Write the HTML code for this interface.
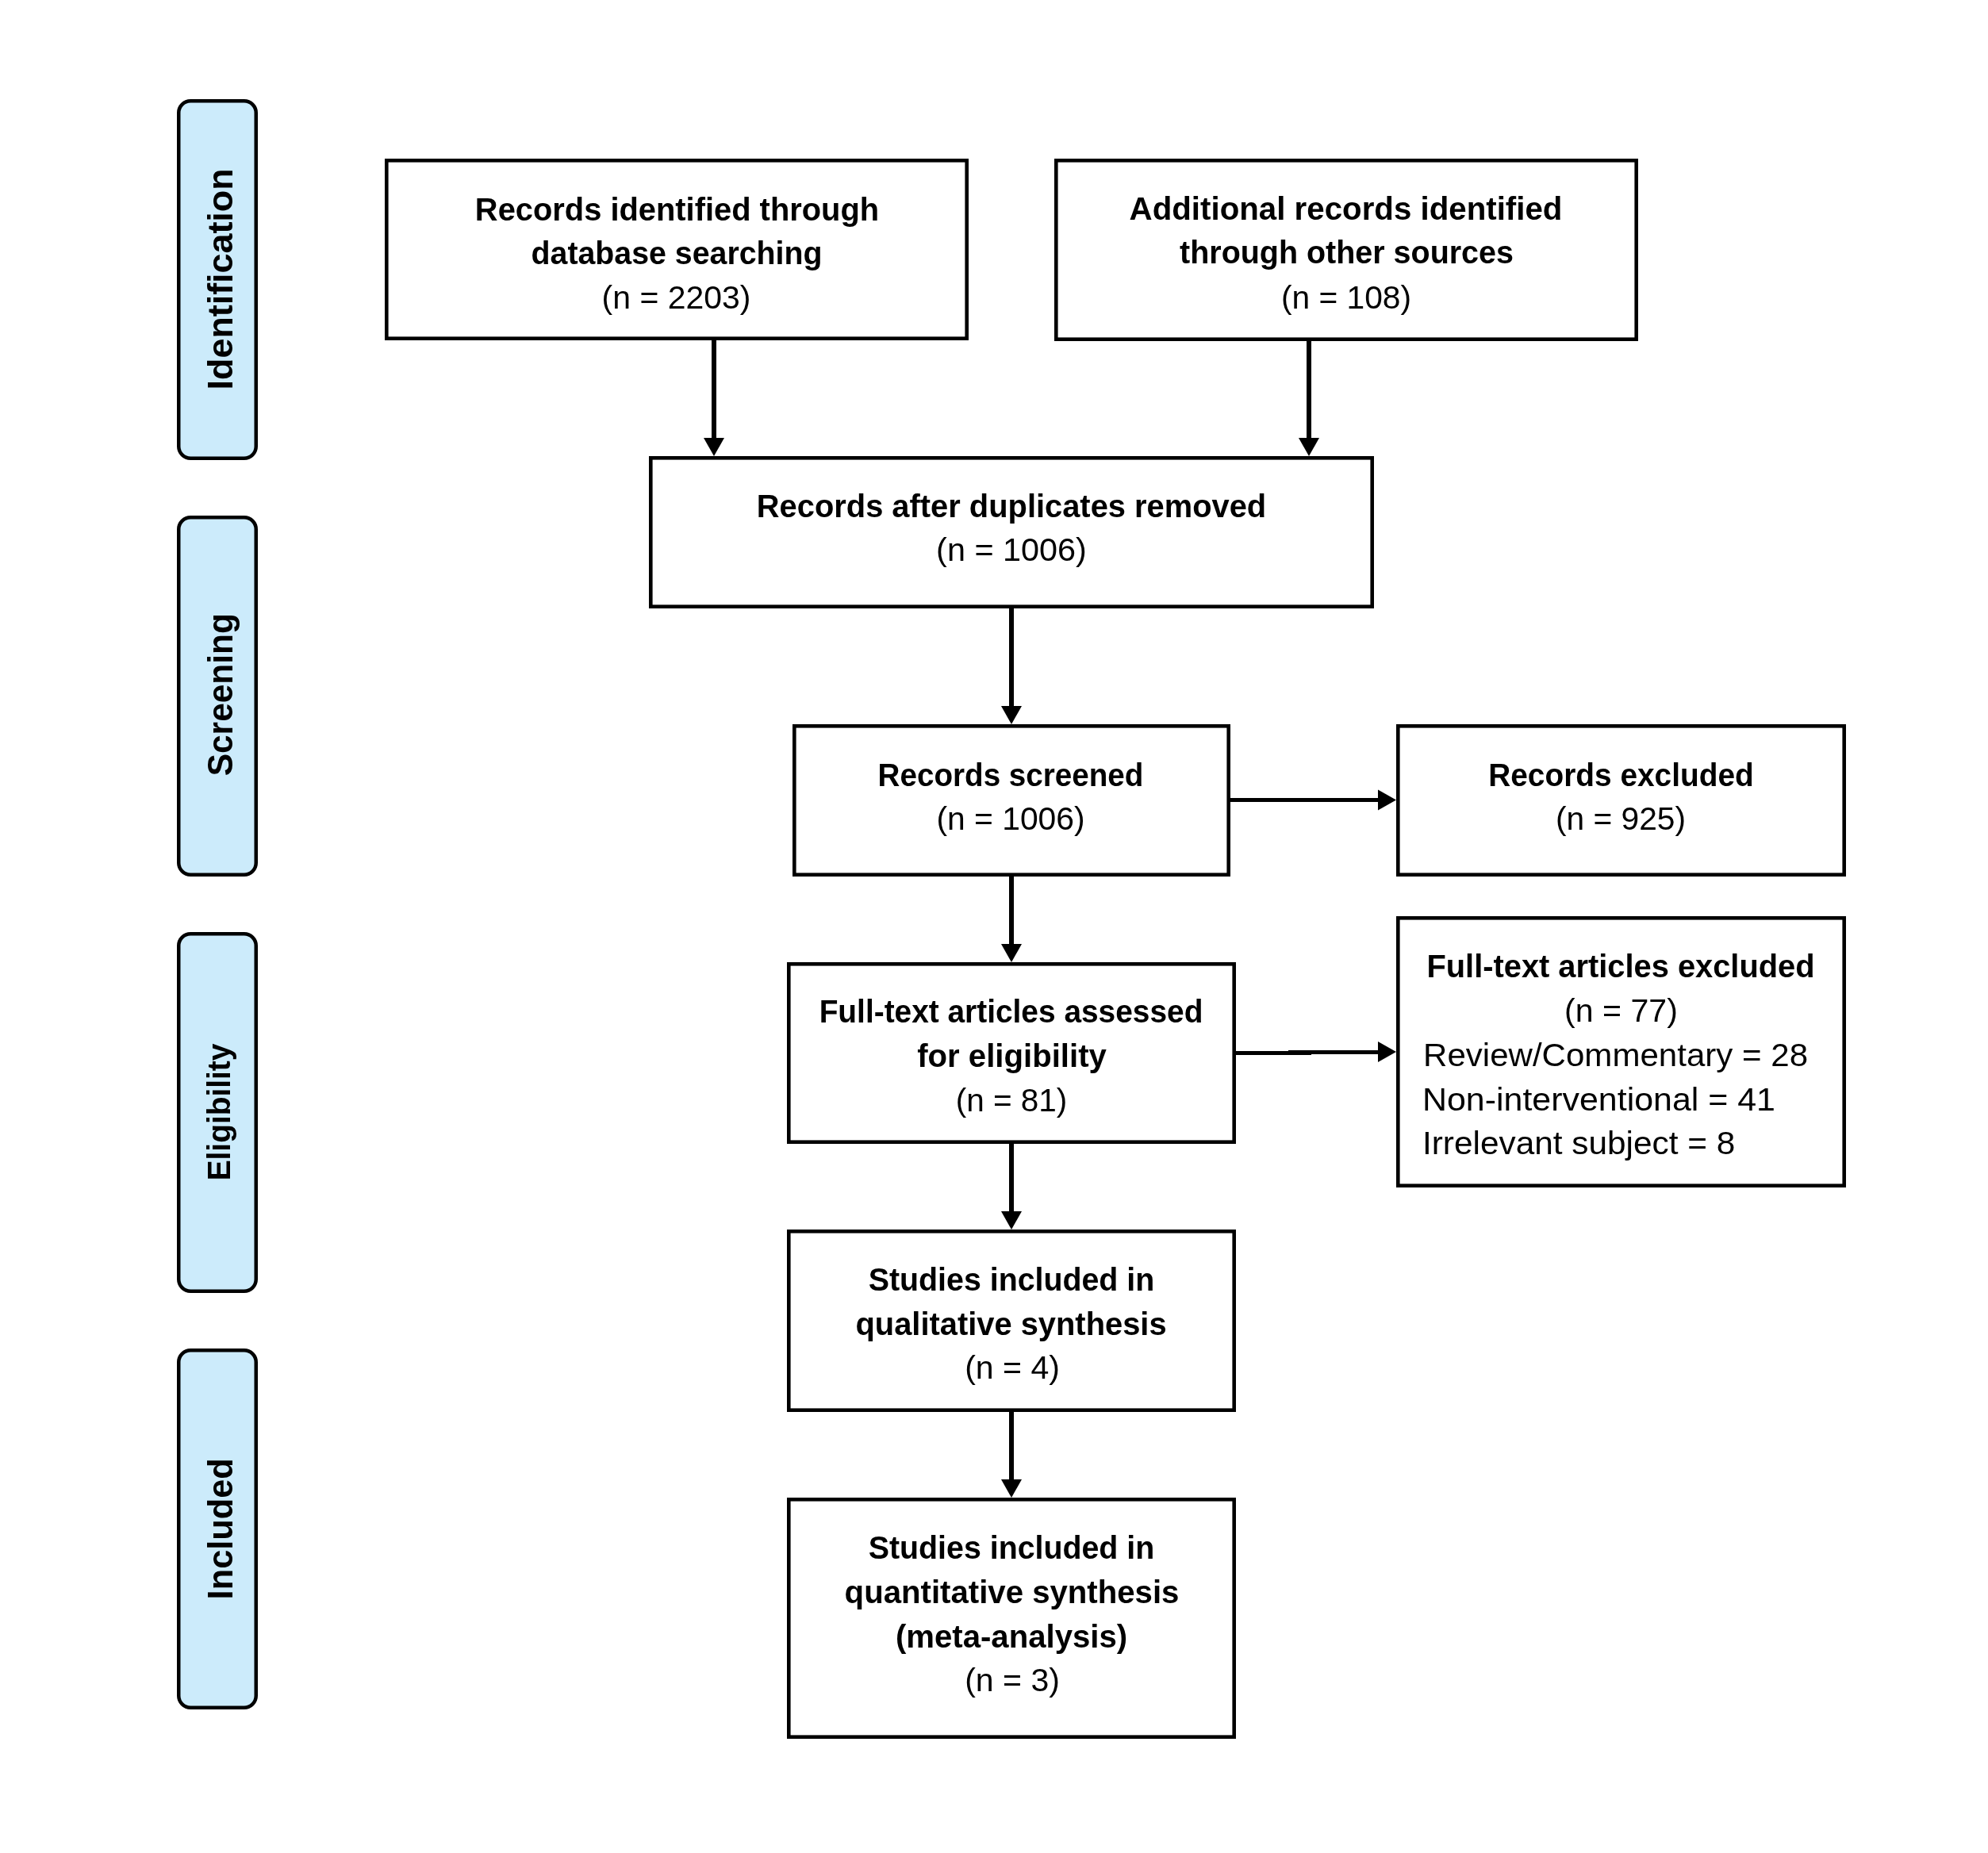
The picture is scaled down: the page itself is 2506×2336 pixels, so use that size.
<!DOCTYPE html><html><head><meta charset="utf-8"><style>html,body{margin:0;padding:0;background:#fff;}svg{display:block;will-change:transform;}text{font-family:"Liberation Sans",sans-serif;fill:#000;}</style></head><body>
<svg width="2506" height="2336" viewBox="0 0 2506 2336">
<rect x="0" y="0" width="2506" height="2336" fill="#fff"/>
<rect x="487.3" y="202.3" width="731.4" height="224.4" fill="#fff" stroke="#000" stroke-width="4.6"/>
<rect x="1331.3" y="202.3" width="731.4" height="225.4" fill="#fff" stroke="#000" stroke-width="4.6"/>
<rect x="820.3" y="577.3" width="909.4" height="187.4" fill="#fff" stroke="#000" stroke-width="4.6"/>
<rect x="1001.3" y="915.3" width="547.4" height="187.4" fill="#fff" stroke="#000" stroke-width="4.6"/>
<rect x="1762.3" y="915.3" width="562.4" height="187.4" fill="#fff" stroke="#000" stroke-width="4.6"/>
<rect x="994.3" y="1215.3" width="561.4" height="224.4" fill="#fff" stroke="#000" stroke-width="4.6"/>
<rect x="1762.3" y="1157.3" width="562.4" height="337.4" fill="#fff" stroke="#000" stroke-width="4.6"/>
<rect x="994.3" y="1552.3" width="561.4" height="225.4" fill="#fff" stroke="#000" stroke-width="4.6"/>
<rect x="994.3" y="1890.3" width="561.4" height="299.4" fill="#fff" stroke="#000" stroke-width="4.6"/>
<rect x="225.25" y="127.25" width="97.5" height="450.5" rx="15" ry="15" fill="#CCEBFB" stroke="#000" stroke-width="4.5"/>
<rect x="225.25" y="652.25" width="97.5" height="450.5" rx="15" ry="15" fill="#CCEBFB" stroke="#000" stroke-width="4.5"/>
<rect x="225.25" y="1177.25" width="97.5" height="450.5" rx="15" ry="15" fill="#CCEBFB" stroke="#000" stroke-width="4.5"/>
<rect x="225.25" y="1702.25" width="97.5" height="450.5" rx="15" ry="15" fill="#CCEBFB" stroke="#000" stroke-width="4.5"/>
<rect x="897" y="429" width="6" height="124" fill="#000"/><polygon points="887,552 913,552 900,575" fill="#000"/>
<rect x="1647" y="430" width="6" height="123" fill="#000"/><polygon points="1637,552 1663,552 1650,575" fill="#000"/>
<rect x="1272" y="767" width="6" height="124" fill="#000"/><polygon points="1262,890 1288,890 1275,913" fill="#000"/>
<rect x="1272" y="1105" width="6" height="86" fill="#000"/><polygon points="1262,1190 1288,1190 1275,1213" fill="#000"/>
<rect x="1272" y="1442" width="6" height="86" fill="#000"/><polygon points="1262,1527 1288,1527 1275,1550" fill="#000"/>
<rect x="1272" y="1780" width="6" height="86" fill="#000"/><polygon points="1262,1865 1288,1865 1275,1888" fill="#000"/>
<rect x="1551" y="1006.0" width="187" height="5" fill="#000"/><polygon points="1737,995.5 1737,1021.5 1760,1008.5" fill="#000"/>
<rect x="1558" y="1325" width="95" height="5" fill="#000"/>
<rect x="1624" y="1324" width="114" height="5" fill="#000"/>
<polygon points="1737,1313 1737,1339 1760,1326" fill="#000"/>
<text transform="translate(853.50,278) scale(0.9844,1)" x="0" y="0" text-anchor="middle" font-size="40.5" font-weight="bold">Records identified through</text>
<text transform="translate(853.00,333) scale(0.9706,1)" x="0" y="0" text-anchor="middle" font-size="40.5" font-weight="bold">database searching</text>
<text transform="translate(852.50,389) scale(1.0110,1)" x="0" y="0" text-anchor="middle" font-size="40.5" font-weight="normal">(n = 2203)</text>
<text transform="translate(1696.50,277) scale(0.9945,1)" x="0" y="0" text-anchor="middle" font-size="40.5" font-weight="bold">Additional records identified</text>
<text transform="translate(1697.50,332) scale(0.9744,1)" x="0" y="0" text-anchor="middle" font-size="40.5" font-weight="bold">through other sources</text>
<text transform="translate(1697.00,389) scale(1.0063,1)" x="0" y="0" text-anchor="middle" font-size="40.5" font-weight="normal">(n = 108)</text>
<text transform="translate(1275.00,652) scale(0.9846,1)" x="0" y="0" text-anchor="middle" font-size="40.5" font-weight="bold">Records after duplicates removed</text>
<text transform="translate(1275.00,707) scale(1.0221,1)" x="0" y="0" text-anchor="middle" font-size="40.5" font-weight="normal">(n = 1006)</text>
<text transform="translate(1274.00,991) scale(0.9538,1)" x="0" y="0" text-anchor="middle" font-size="40.5" font-weight="bold">Records screened</text>
<text transform="translate(1274.00,1046) scale(1.0083,1)" x="0" y="0" text-anchor="middle" font-size="40.5" font-weight="normal">(n = 1006)</text>
<text transform="translate(2043.50,991) scale(0.9592,1)" x="0" y="0" text-anchor="middle" font-size="40.5" font-weight="bold">Records excluded</text>
<text transform="translate(2043.00,1046) scale(1.0063,1)" x="0" y="0" text-anchor="middle" font-size="40.5" font-weight="normal">(n = 925)</text>
<text transform="translate(1274.50,1289) scale(0.9599,1)" x="0" y="0" text-anchor="middle" font-size="40.5" font-weight="bold">Full-text articles assessed</text>
<text transform="translate(1275.50,1345) scale(0.9916,1)" x="0" y="0" text-anchor="middle" font-size="40.5" font-weight="bold">for eligibility</text>
<text transform="translate(1275.00,1401) scale(1.0000,1)" x="0" y="0" text-anchor="middle" font-size="40.5" font-weight="normal">(n = 81)</text>
<text transform="translate(2043.00,1232) scale(0.9837,1)" x="0" y="0" text-anchor="middle" font-size="40.5" font-weight="bold">Full-text articles excluded</text>
<text transform="translate(2043.50,1288) scale(1.0148,1)" x="0" y="0" text-anchor="middle" font-size="40.5" font-weight="normal">(n = 77)</text>
<text transform="translate(1794.00,1344) scale(1.0390,1)" x="0" y="0" text-anchor="start" font-size="40.5" font-weight="normal">Review/Commentary = 28</text>
<text transform="translate(1793.00,1400) scale(1.0602,1)" x="0" y="0" text-anchor="start" font-size="40.5" font-weight="normal">Non-interventional = 41</text>
<text transform="translate(1793.00,1455) scale(1.0458,1)" x="0" y="0" text-anchor="start" font-size="40.5" font-weight="normal">Irrelevant subject = 8</text>
<text transform="translate(1275.00,1627) scale(0.9715,1)" x="0" y="0" text-anchor="middle" font-size="40.5" font-weight="bold">Studies included in</text>
<text transform="translate(1274.50,1683) scale(0.9848,1)" x="0" y="0" text-anchor="middle" font-size="40.5" font-weight="bold">qualitative synthesis</text>
<text transform="translate(1276.00,1738) scale(1.0133,1)" x="0" y="0" text-anchor="middle" font-size="40.5" font-weight="normal">(n = 4)</text>
<text transform="translate(1275.00,1965) scale(0.9715,1)" x="0" y="0" text-anchor="middle" font-size="40.5" font-weight="bold">Studies included in</text>
<text transform="translate(1275.50,2021) scale(0.9917,1)" x="0" y="0" text-anchor="middle" font-size="40.5" font-weight="bold">quantitative synthesis</text>
<text transform="translate(1275.00,2077) scale(0.9914,1)" x="0" y="0" text-anchor="middle" font-size="40.5" font-weight="bold">(meta-analysis)</text>
<text transform="translate(1276.00,2132) scale(1.0133,1)" x="0" y="0" text-anchor="middle" font-size="40.5" font-weight="normal">(n = 3)</text>
<text transform="translate(293,351.90) rotate(-90) scale(1.0194,1)" x="0" y="0" text-anchor="middle" font-size="44" font-weight="bold">Identification</text>
<text transform="translate(293,875.70) rotate(-90) scale(0.9644,1)" x="0" y="0" text-anchor="middle" font-size="44" font-weight="bold">Screening</text>
<text transform="translate(289.5,1402.00) rotate(-90) scale(0.9481,1)" x="0" y="0" text-anchor="middle" font-size="41" font-weight="bold">Eligibility</text>
<text transform="translate(293,1927.30) rotate(-90) scale(0.9852,1)" x="0" y="0" text-anchor="middle" font-size="44" font-weight="bold">Included</text>
</svg></body></html>
